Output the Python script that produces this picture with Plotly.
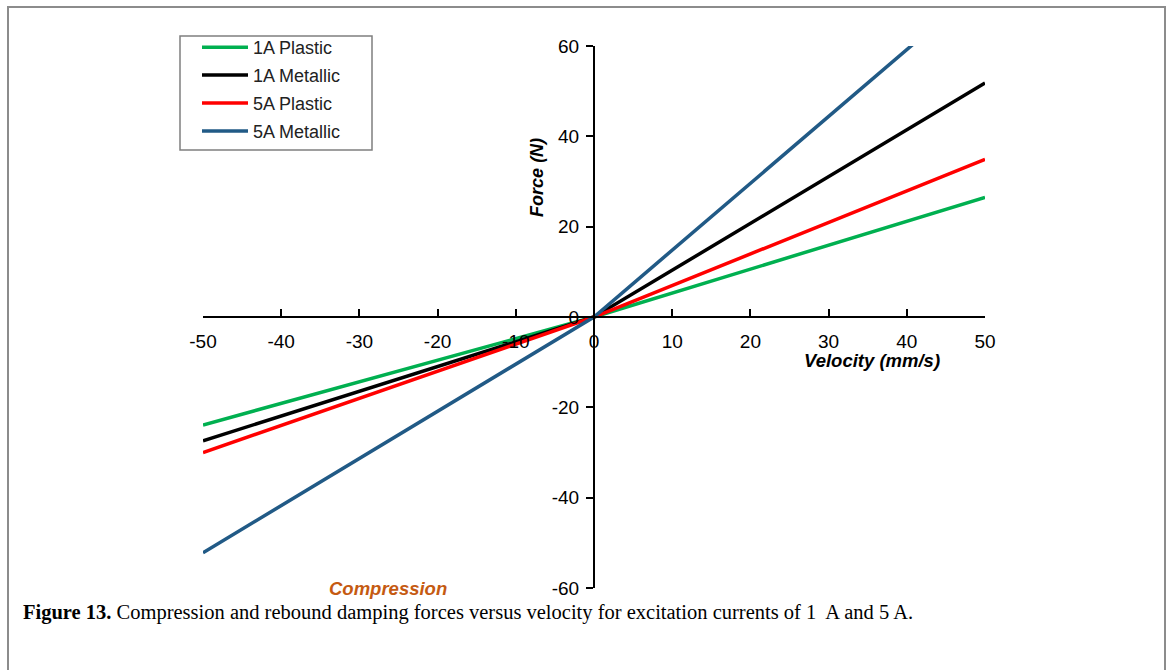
import plotly.graph_objects as go

# ---- data ----
velocity = [-50, 0, 50]
series_names = ["1A Plastic", "1A Metallic", "5A Plastic", "5A Metallic"]
force_1a_plastic = [-23.9, 0, 26.5]
force_1a_metallic = [-27.4, 0, 51.8]
force_5a_plastic = [-30.0, 0, 34.9]
force_5a_metallic = [-52.2, 0, 74.0]
series_values = [force_1a_plastic, force_1a_metallic, force_5a_plastic, force_5a_metallic]
series_colors = ["#00B050", "#000000", "#FF0000", "#215A86"]
x_ticks = [-50, -40, -30, -20, -10, 0, 10, 20, 30, 40, 50]
y_ticks = [-60, -40, -20, 0, 20, 40, 60]

SANS = "Liberation Sans, Arial, sans-serif"

fig = go.Figure()
for i, (name, vals, col) in enumerate(zip(series_names, series_values, series_colors)):
    fig.add_trace(go.Scatter(
        x=velocity, y=vals, mode="lines", name=name,
        line=dict(color=col, width=3.5),
        legendgroup=f"g{i}",
    ))

W, H = 1171, 670
ml, mr, mt, mb = 203, 186, 46, 82
pw, ph = W - ml - mr, H - mt - mb

def px2paper_x(px):
    return (px - ml) / pw

def px2paper_y(py):
    return (H - mb - py) / ph

fig.update_layout(
    width=W, height=H,
    margin=dict(l=ml, r=mr, t=mt, b=mb, pad=0),
    paper_bgcolor="white", plot_bgcolor="white",
    showlegend=True,
    legend=dict(
        x=px2paper_x(197), y=px2paper_y(29), xanchor="left", yanchor="top",
        bgcolor="rgba(0,0,0,0)", borderwidth=0,
        font=dict(family=SANS, size=18, color="#222222"),
        itemwidth=46, tracegroupgap=1.5, traceorder="grouped",
    ),
    xaxis=dict(
        range=[-50, 50], tickvals=x_ticks, ticktext=[str(v) for v in x_ticks],
        anchor="free", position=0.5, side="bottom",
        showline=True, linecolor="black", linewidth=2,
        ticks="inside", ticklen=7, tickwidth=1.5, tickcolor="black",
        ticklabelstandoff=7,
        showgrid=False, zeroline=False,
        tickfont=dict(family=SANS, size=19, color="black"),
    ),
    yaxis=dict(
        range=[-60, 60], tickvals=y_ticks, ticktext=[str(v) for v in y_ticks],
        anchor="free", position=0.5, side="left",
        showline=True, linecolor="black", linewidth=2,
        ticks="outside", ticklen=7, tickwidth=1.5, tickcolor="black",
        ticklabelstandoff=3,
        showgrid=False, zeroline=False,
        tickfont=dict(family=SANS, size=19, color="black"),
    ),
)

annotations = [
    dict(text="<b><i>Force (N)</i></b>", x=-7.3, y=31, xref="x", yref="y",
         textangle=-90, showarrow=False, font=dict(family=SANS, size=18, color="black")),
    dict(text="<b><i>Velocity (mm/s)</i></b>", x=35.6, y=-9.6, xref="x", yref="y",
         showarrow=False, font=dict(family=SANS, size=18.5, color="black")),
    dict(text="<b><i>Rebound</i></b>", x=25.4, y=60.2, xref="x", yref="y",
         showarrow=False, font=dict(family=SANS, size=18, color="#7030A0")),
    dict(text="<b><i>Compression</i></b>", x=-26.3, y=-60.0, xref="x", yref="y",
         showarrow=False, font=dict(family=SANS, size=18.5, color="#C55A11")),
    dict(text="<b>Figure 13.</b> Compression and rebound damping forces versus velocity for excitation currents of 1\u00a0 A and 5 A.",
         x=px2paper_x(21), y=px2paper_y(612), xref="paper", yref="paper",
         xanchor="left", yanchor="middle", showarrow=False,
         font=dict(family="Liberation Serif, Times New Roman, serif", size=20.5, color="black")),
]
fig.update_layout(annotations=annotations)

shapes = [
    # outer figure frame
    dict(type="rect", xref="paper", yref="paper",
         x0=px2paper_x(8), x1=px2paper_x(1165), y0=px2paper_y(700), y1=px2paper_y(7),
         line=dict(color="#8C8C8C", width=2), fillcolor="rgba(0,0,0,0)", layer="below"),
    # legend box
    dict(type="rect", xref="paper", yref="paper",
         x0=px2paper_x(180), x1=px2paper_x(372), y0=px2paper_y(150), y1=px2paper_y(36),
         line=dict(color="#7F7F7F", width=1.5), fillcolor="white", layer="below"),
]
fig.update_layout(shapes=shapes)

fig.write_html("out.html")
